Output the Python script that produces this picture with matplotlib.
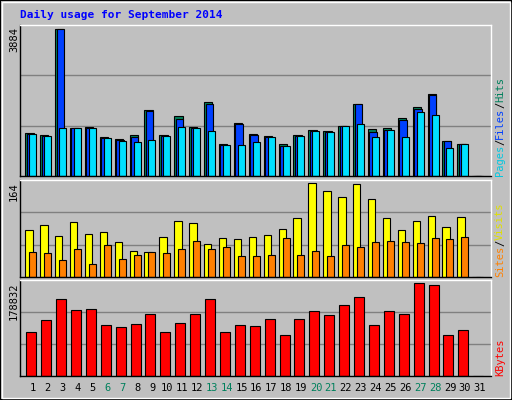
import matplotlib
matplotlib.use("Agg")
import matplotlib.pyplot as plt
from matplotlib.patches import Rectangle

days = list(range(1, 32))
hits = [1130,1077,3884,1262,1289,1024,971,1077,1748,1077,1580,1289,1960,839,1395,1103,1050,839,1077,1209,1183,1315,1898,1236,1262,1527,1818,2163,918,839,0]
files = [1103,1050,3884,1262,1262,997,944,1024,1712,1050,1501,1262,1898,812,1368,1077,1024,786,1050,1183,1156,1315,1898,1156,1209,1474,1765,2136,918,839,0]
pages = [1103,1050,1262,1262,1262,997,918,892,944,1050,1289,1262,1183,812,812,892,1024,786,1050,1183,1156,1315,1368,1024,1209,1024,1686,1607,733,839,0]
visits = [82,91,71,96,75,78,61,46,43,70,98,94,57,68,66,70,73,84,103,164,150,139,162,135,102,82,98,107,87,105,0]
sites = [43,41,29,48,23,55,32,39,43,41,48,62,48,53,37,36,39,68,39,45,37,55,52,61,62,61,59,68,66,70,0]
kbytes = [84500,108100,147400,125800,127700,98300,94300,100200,119900,84500,102200,119900,147400,84500,98300,96300,110000,78600,110000,123800,117900,135600,151300,98300,123800,119900,178832,174900,78600,88400,0]
weekend = {6,7,13,14,20,21,27,28}

W, H = 512, 400
fig = plt.figure(figsize=(W/100, H/100), dpi=100, facecolor="#C0C0C0")
fig.patches.append(Rectangle((0,0),1,1,transform=fig.transFigure,fill=False,ec="black",lw=1.5))
fig.patches.append(Rectangle((2/W,2/H),1-4/W,1-4/H,transform=fig.transFigure,fill=False,ec="white",lw=1))
mono = "DejaVu Sans Mono"

def mkax(top, bottom, left=20, right=491):
    ax = fig.add_axes([left/W, 1-bottom/H, (right-left)/W, (bottom-top)/H])
    ax.set_facecolor("#C0C0C0")
    ax.set_xlim(0.13, 31.74)
    for s in ax.spines.values():
        s.set_color("white"); s.set_linewidth(1)
    ax.spines["left"].set_color("black"); ax.spines["bottom"].set_color("black")
    ax.set_xticks([]); ax.set_yticks([])
    return ax

def grid(ax, top):
    ax.set_ylim(0, top)
    for f in (1/3, 2/3):
        ax.axhline(top*f, color="#808080", lw=1, zorder=0)

ec = dict(edgecolor="black", linewidth=0.8, align="edge")
ax1 = mkax(25, 176)
grid(ax1, max(hits)*1.03)
ax1.bar([d-0.52 for d in days], hits, 0.56, color="#00805C", **ec)
ax1.bar([d-0.42 for d in days], files, 0.5, color="#0040FF", **ec)
ax1.bar([d-0.25 for d in days], pages, 0.47, color="#00E0FF", **ec)

ax2 = mkax(180, 277)
grid(ax2, max(visits)*1.03)
ax2.bar([d-0.52 for d in days], visits, 0.5, color="#FFFF00", **ec)
ax2.bar([d-0.25 for d in days], sites, 0.47, color="#FF8000", **ec)

ax3 = mkax(280, 376)
grid(ax3, max(kbytes)*1.03)
ax3.bar([d-0.45 for d in days], kbytes, 0.67, color="#FF0000", **ec)

for d in days:
    ax3.text(d, -0.13, str(d), transform=ax3.get_xaxis_transform(), ha="center", va="center",
             fontsize=7.5, family=mono, color="#00805C" if d in weekend else "black")

fig.text(20/W, 1-15/H, "Daily usage for September 2014", fontsize=8, family=mono,
         weight="bold", color="#0000FF", va="center")
for ytop, txt in ((27, "3884"), (182, "164"), (282, "178832")):
    fig.text(14/W, 1-ytop/H, txt, rotation=90, ha="center", va="top", fontsize=7.5, family=mono)

CH = 6.2
def rlabel(parts, ybottom):
    y = ybottom
    for txt, col in parts:
        fig.text(500/W, 1-y/H, txt, rotation=90, ha="center", va="bottom",
                 fontsize=7.5, family=mono, color=col, rotation_mode="default")
        y -= len(txt)*CH
rlabel([("Pages", "#00C8E0"), ("/", "black"), ("Files", "#0040FF"), ("/", "black"), ("Hits", "#00805C")], 176)
rlabel([("Sites", "#FF8000"), ("/", "black"), ("Visits", "#E0E000")], 277)
rlabel([("KBytes", "#FF0000")], 376)

fig.savefig("out.png", dpi=100, facecolor=fig.get_facecolor())
